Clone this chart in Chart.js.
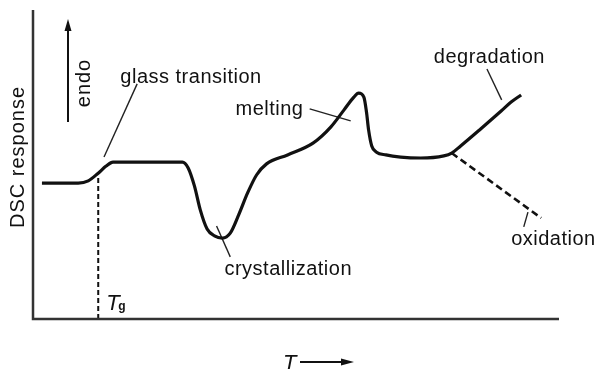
<!DOCTYPE html>
<html>
<head>
<meta charset="utf-8">
<script src="https://cdn.jsdelivr.net/npm/chart.js@4"></script>
<style>
  html, body { margin: 0; padding: 0; background: #fff; }
  #wrap { width: 594px; height: 369px; }
</style>
</head>
<body>
<div id="wrap"><canvas id="dscChart" width="594" height="369"></canvas></div>
<script>
// DSC trace (arbitrary units, temperature 0-100 / response 0-100)
var curveT   = [1.7, 8.6, 10.5, 12.4, 13.9, 15.2, 28.4, 29.5, 30.7, 31.8, 33.1, 34.5, 36.0, 37.5, 39.1, 40.8, 42.5, 44.4, 48.4, 53.3, 56.6, 59.1, 61.0, 61.9, 62.9, 63.4, 63.8, 64.4, 65.3, 67.1, 69.9, 73.7, 78.1, 79.6, 81.3, 85.1, 89.0, 90.9, 92.8];
var curveDSC = [44.0, 44.0, 44.7, 47.2, 49.5, 50.8, 50.8, 48.9, 43.0, 35.3, 29.1, 26.9, 26.2, 27.8, 33.7, 40.8, 46.6, 50.2, 53.1, 57.0, 62.1, 67.6, 71.8, 73.1, 71.8, 67.0, 61.2, 56.0, 54.0, 53.1, 52.4, 52.1, 52.8, 53.7, 56.0, 61.5, 67.3, 70.2, 72.5];

// oxidation branch (dashed)
var oxidT   = [79.6, 96.6];
var oxidDSC = [53.7, 32.7];

// glass transition temperature marker
var tgT   = [12.4, 12.4];
var tgDSC = [45.6, 0];

// callouts
var calloutNames   = ['glass transition', 'melting', 'crystallization', 'degradation', 'oxidation'];
var calloutTextT   = [16.6, 38.5, 36.4, 76.2, 90.9];
var calloutTextDSC = [76.4, 66.0, 14.2, 82.8, 23.9];
var leaderFromT    = [19.8, 52.6, 34.9, 86.3, 94.1];
var leaderFromDSC  = [76.1, 68.0, 30.1, 80.9, 34.6];
var leaderToT      = [13.5, 60.4, 37.5, 89.1, 93.3];
var leaderToDSC    = [52.4, 64.1, 20.1, 70.9, 29.8];

function pts(xs, ys) {
    return xs.map(function (x, i) { return { x: x, y: ys[i] }; });
}

var datasets = [{
    data: pts(curveT, curveDSC),
    borderColor: '#111',
    borderWidth: 3.2,
    cubicInterpolationMode: 'monotone'
}, {
    data: pts(oxidT, oxidDSC),
    borderColor: '#111',
    borderWidth: 2.6,
    borderDash: [7, 4]
}, {
    data: pts(tgT, tgDSC),
    borderColor: '#111',
    borderWidth: 2,
    borderDash: [5, 3]
}];

calloutNames.forEach(function (name, i) {
    datasets.push({
        data: [{ x: leaderFromT[i], y: leaderFromDSC[i] }, { x: leaderToT[i], y: leaderToDSC[i] }],
        borderColor: '#222',
        borderWidth: 1.4
    });
});

var FONT = '20px "Liberation Sans", Arial, sans-serif';

// axes, labels and arrows
var decorations = {
    id: 'decorations',
    afterDatasetsDraw: function (chart) {
        var ctx = chart.ctx;
        var a = chart.chartArea;
        var xs = chart.scales.x, ys = chart.scales.y;
        ctx.save();

        // axis lines
        ctx.strokeStyle = '#333';
        ctx.lineWidth = 2.5;
        ctx.beginPath();
        ctx.moveTo(a.left, a.top);
        ctx.lineTo(a.left, a.bottom);
        ctx.lineTo(a.right, a.bottom);
        ctx.stroke();

        ctx.fillStyle = '#111';
        ctx.font = FONT;
        ctx.letterSpacing = '0.5px';
        ctx.textBaseline = 'alphabetic';
        ctx.textAlign = 'left';
        calloutNames.forEach(function (name, i) {
            ctx.fillText(name, xs.getPixelForValue(calloutTextT[i]), ys.getPixelForValue(calloutTextDSC[i]));
        });

        // DSC response (rotated)
        ctx.save();
        ctx.translate(a.left - 15, a.top + 147);
        ctx.rotate(-Math.PI / 2);
        ctx.textAlign = 'center';
        ctx.textBaseline = 'middle';
        ctx.letterSpacing = '1px';
        ctx.fillText('DSC response', 0, 0);
        ctx.restore();

        // endo arrow
        var ax = a.left + 35;
        ctx.strokeStyle = '#111';
        ctx.lineWidth = 2;
        ctx.beginPath();
        ctx.moveTo(ax, a.top + 112);
        ctx.lineTo(ax, a.top + 18);
        ctx.stroke();
        ctx.beginPath();
        ctx.moveTo(ax, a.top + 9);
        ctx.lineTo(ax - 3.5, a.top + 21);
        ctx.lineTo(ax + 3.5, a.top + 21);
        ctx.closePath();
        ctx.fill();
        ctx.save();
        ctx.translate(ax + 16, a.top + 73);
        ctx.rotate(-Math.PI / 2);
        ctx.textAlign = 'center';
        ctx.textBaseline = 'middle';
        ctx.letterSpacing = '1px';
        ctx.fillText('endo', 0, 0);
        ctx.restore();

        // Tg label
        var tgx = xs.getPixelForValue(tgT[0]);
        ctx.letterSpacing = '0px';
        ctx.font = 'italic 22px "Liberation Sans", Arial, sans-serif';
        ctx.fillText('T', tgx + 8, a.bottom - 9);
        ctx.font = 'bold 12px "Liberation Sans", Arial, sans-serif';
        ctx.fillText('g', tgx + 20, a.bottom - 9);

        // T arrow under the axis
        var tx = a.left + 250;
        var ty = a.bottom + 43;
        ctx.font = 'italic 22px "Liberation Sans", Arial, sans-serif';
        ctx.textBaseline = 'middle';
        ctx.fillText('T', tx, ty + 2);
        ctx.beginPath();
        ctx.moveTo(tx + 17, ty);
        ctx.lineTo(tx + 60, ty);
        ctx.lineWidth = 1.8;
        ctx.stroke();
        ctx.beginPath();
        ctx.moveTo(tx + 71, ty);
        ctx.lineTo(tx + 58, ty - 3.5);
        ctx.lineTo(tx + 58, ty + 3.5);
        ctx.closePath();
        ctx.fill();

        ctx.restore();
    }
};

document.addEventListener('DOMContentLoaded', function () {
    var ctx = document.getElementById('dscChart').getContext('2d');
    new Chart(ctx, {
        type: 'scatter',
        data: { datasets: datasets },
        options: {
            responsive: false,
            animation: false,
            showLine: true,
            layout: { padding: { left: 33, right: 35, top: 10, bottom: 50 } },
            elements: { point: { radius: 0, hoverRadius: 0 }, line: { tension: 0, fill: false } },
            plugins: { legend: { display: false }, tooltip: { enabled: false } },
            scales: {
                x: { type: 'linear', min: 0, max: 100, display: false },
                y: { type: 'linear', min: 0, max: 100, display: false }
            }
        },
        plugins: [decorations]
    });
});
</script>
</body>
</html>
